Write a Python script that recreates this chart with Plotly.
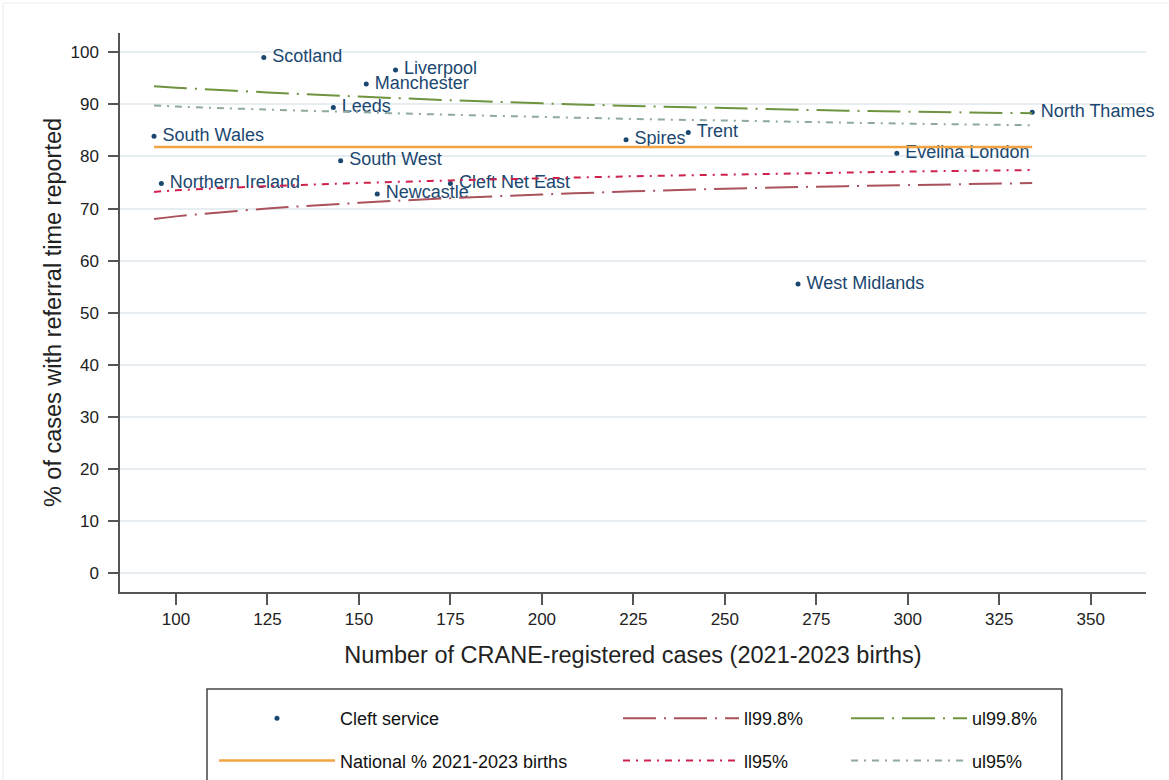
import plotly.graph_objects as go

# ---- data ----
services = ["Scotland", "Liverpool", "Manchester", "Leeds", "South Wales", "South West",
            "Northern Ireland", "Newcastle", "Cleft Net East", "Spires", "Trent",
            "Evelina London", "North Thames", "West Midlands"]
cases = [124, 160, 152, 143, 94, 145, 96, 155, 175, 223, 240, 297, 334, 270]
pct_reported = [99.0, 96.6, 93.9, 89.4, 83.9, 79.2, 74.8, 72.8, 74.8, 83.2, 84.6, 80.6, 88.5, 55.5]

limit_n = [94, 100, 125, 150, 175, 200, 225, 250, 275, 300, 334]
national = [81.8] * len(limit_n)
ll998 = [68.0, 68.5, 70.0, 71.1, 72.0, 72.7, 73.3, 73.8, 74.2, 74.5, 74.9]
ul998 = [93.5, 93.2, 92.3, 91.5, 90.8, 90.2, 89.7, 89.3, 88.9, 88.6, 88.3]
ll95 = [73.2, 73.5, 74.3, 74.9, 75.4, 75.8, 76.2, 76.5, 76.8, 77.1, 77.4]
ul95 = [89.8, 89.6, 89.0, 88.5, 88.0, 87.6, 87.2, 86.9, 86.6, 86.3, 86.0]

x_ticks = [100, 125, 150, 175, 200, 225, 250, 275, 300, 325, 350]
y_ticks = [0, 10, 20, 30, 40, 50, 60, 70, 80, 90, 100]

NAVY = "#1a476f"
FONT = "Liberation Sans, Arial, sans-serif"

fig = go.Figure()

# visible service dots (legend entry)
fig.add_trace(go.Scatter(
    x=cases, y=pct_reported, mode="markers", name="Cleft service",
    marker=dict(color=NAVY, size=5),
    legend="legend", legendgroup="a", cliponaxis=False))

# service labels (transparent larger marker gives the label offset)
fig.add_trace(go.Scatter(
    x=cases, y=pct_reported, text=services, mode="markers+text",
    textposition="middle right", showlegend=False, hoverinfo="skip",
    marker=dict(color="rgba(0,0,0,0)", size=12),
    textfont=dict(color=NAVY, size=18, family=FONT),
    legendgroup="a", cliponaxis=False))

fig.add_trace(go.Scatter(
    x=limit_n, y=national, mode="lines", name="National % 2021-2023 births",
    line=dict(color="#f2a444", width=2.5),
    legend="legend", legendgroup="b"))

fig.add_trace(go.Scatter(
    x=limit_n, y=ll998, mode="lines", name="ll99.8%", line_shape="spline",
    line=dict(color="#a9525c", width=2, dash="33px,8px,2px,8px"),
    legend="legend2", legendgroup="c"))
fig.add_trace(go.Scatter(
    x=limit_n, y=ll95, mode="lines", name="ll95%", line_shape="spline",
    line=dict(color="#d0204c", width=2, dash="7px,6px,2px,6px"),
    legend="legend2", legendgroup="d"))

fig.add_trace(go.Scatter(
    x=limit_n, y=ul998, mode="lines", name="ul99.8%", line_shape="spline",
    line=dict(color="#6f9440", width=2, dash="33px,8px,2px,8px"),
    legend="legend3", legendgroup="e"))
fig.add_trace(go.Scatter(
    x=limit_n, y=ul95, mode="lines", name="ul95%", line_shape="spline",
    line=dict(color="#8fa99c", width=2, dash="7px,6px,2px,6px"),
    legend="legend3", legendgroup="f"))

leg_common = dict(
    orientation="v", xanchor="left", yanchor="top", y=-0.1932,
    bgcolor="rgba(0,0,0,0)", borderwidth=0, itemwidth=116,
    tracegroupgap=16, font=dict(size=18, family=FONT, color="#111"),
    itemclick=False, itemdoubleclick=False)

fig.update_layout(
    width=1169, height=780,
    margin=dict(l=120, r=23, t=33, b=188, autoexpand=False),
    paper_bgcolor="white", plot_bgcolor="white",
    showlegend=True,
    legend=dict(x=0.0916, **leg_common),
    legend2=dict(x=0.4854, **leg_common),
    legend3=dict(x=0.7076, **leg_common),
    font=dict(family=FONT, color="#222"),
    xaxis=dict(
        range=[84.7, 365.1], tickmode="array", tickvals=x_ticks,
        ticktext=[str(v) for v in x_ticks],
        showgrid=False, zeroline=False,
        showline=True, linecolor="#555", linewidth=1.5,
        ticks="outside", ticklen=11, tickwidth=1.5, tickcolor="#555",
        tickfont=dict(size=17, color="#222", family=FONT),
        title=dict(text="Number of CRANE-registered cases (2021-2023 births)",
                   font=dict(size=23.5, color="#222", family=FONT), standoff=18),
        automargin=False),
    yaxis=dict(
        range=[-3.6, 103.7], tickmode="array", tickvals=y_ticks,
        ticktext=[str(v) for v in y_ticks],
        showgrid=True, gridcolor="#e6eef1", gridwidth=2, zeroline=False,
        showline=True, linecolor="#555", linewidth=1.5,
        ticks="outside", ticklen=10, tickwidth=1.5, tickcolor="#555",
        ticklabelstandoff=6,
        tickfont=dict(size=17, color="#222", family=FONT),
        title=dict(text="% of cases with referral time reported",
                   font=dict(size=23.5, color="#222", family=FONT), standoff=2),
        automargin=False),
    shapes=[
        dict(type="rect", xref="paper", yref="paper",
             x0=0.0848, x1=0.918, y0=-0.3542, y1=-0.1735,
             line=dict(color="#444", width=1.5), fillcolor="rgba(0,0,0,0)", layer="below"),
        dict(type="rect", xref="paper", yref="paper",
             x0=-0.114, x1=1.1, y0=-0.5, y1=1.0537,
             line=dict(color="#ececec", width=1), fillcolor="rgba(0,0,0,0)", layer="below"),
    ],
)

fig.write_html("out.html", config={"displayModeBar": False},
               post_script="document.body.style.margin='0px';")
